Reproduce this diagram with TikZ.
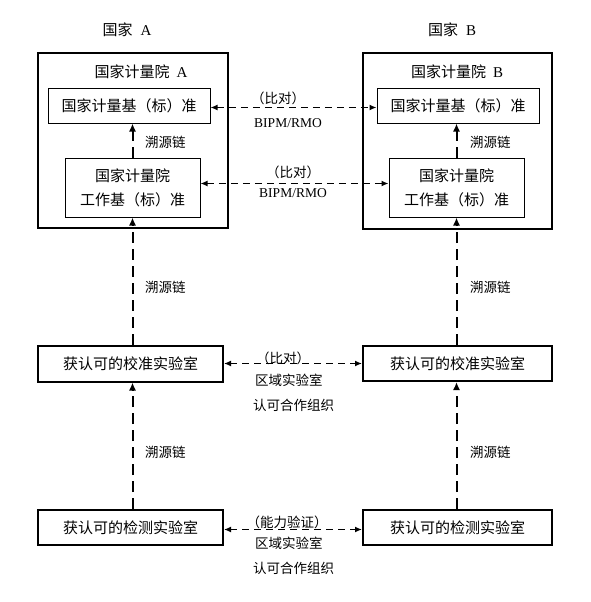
\documentclass[tikz,border=0pt]{standalone}
\usepackage{fontspec}
\setmainfont{Noto Sans CJK SC}
\newfontfamily\latn{Liberation Serif}
\usetikzlibrary{arrows.meta}

\begin{document}
\begin{tikzpicture}[x=1pt, y=-1pt,
    outer/.style={draw, line width=2pt, inner sep=0pt},
    inbox/.style={draw, line width=1pt, inner sep=0pt, align=center, font=\fontsize{15}{24}\selectfont},
    labbox/.style={draw, line width=2pt, inner sep=0pt, minimum height=36pt, font=\fontsize{15}{18}\selectfont},
    hd/.style={inner sep=0pt, font=\fontsize{15}{18}\selectfont},
    lbl/.style={inner sep=0pt, font=\fontsize{13.5}{16}\selectfont},
    org/.style={inner sep=0pt, font=\latn\fontsize{13.5}{16}\selectfont},
    trace/.style={-{Latex[length=8pt,width=7pt]}, line width=2pt, dash pattern=on 11pt off 6pt},
    cmp/.style={{Latex[length=7pt,width=6pt]}-{Latex[length=7pt,width=6pt]}, line width=1.5pt, dash pattern=on 7pt off 5pt}]
    \useasboundingbox (0,0) rectangle (590,602);

    % country A
    \node[hd] (ctyA) at (127,30) {国家\hspace{8pt}{\latn A}};
    \node[outer, minimum width=190pt, minimum height=175pt] (nmiA) at (133,140.5) {};
    \node[hd] (nmiAtxt) at (141,72) {国家计量院\hspace{7pt}{\latn A}};
    \node[inbox, minimum width=162pt, minimum height=35pt] (stdA) at (129,105.5) {国家计量基（标）准};
    \node[inbox, minimum width=135pt, minimum height=59pt] (wstdA) at (132.5,187.5) {国家计量院\\工作基（标）准};
    \node[labbox, minimum width=185pt] (calA) at (130.5,363.5) {获认可的校准实验室};
    \node[labbox, minimum width=185pt, minimum height=35pt] (testA) at (130.5,527.5) {获认可的检测实验室};

    % country B
    \node[hd] (ctyB) at (452,30) {国家\hspace{8pt}{\latn B}};
    \node[outer, minimum width=189pt, minimum height=176pt] (nmiB) at (457.5,141) {};
    \node[hd] (nmiBtxt) at (457,72) {国家计量院\hspace{7pt}{\latn B}};
    \node[inbox, minimum width=162pt, minimum height=35pt] (stdB) at (458,105.5) {国家计量基（标）准};
    \node[inbox, minimum width=135pt, minimum height=59pt] (wstdB) at (456.5,187.5) {国家计量院\\工作基（标）准};
    \node[labbox, minimum width=189pt, minimum height=35pt] (calB) at (457.5,363.5) {获认可的校准实验室};
    \node[labbox, minimum width=189pt, minimum height=35pt] (testB) at (457.5,527.5) {获认可的检测实验室};

    % traceability
    \draw[trace] (wstdA.north) -- (wstdA.north |- stdA.south);
    \draw[trace] (wstdA.south |- calA.north) -- (wstdA.south);
    \draw[trace] (wstdA.south |- testA.north) -- (wstdA.south |- calA.south);
    \draw[trace] (wstdB.north) -- (wstdB.north |- stdB.south);
    \draw[trace] (wstdB.south |- calB.north) -- (wstdB.south);
    \draw[trace] (wstdB.south |- testB.north) -- (wstdB.south |- calB.south);

    \node[lbl, anchor=west] (trA1) at (145,142) {溯源链};
    \node[lbl, anchor=west] (trA2) at (145,287) {溯源链};
    \node[lbl, anchor=west] (trA3) at (145,452) {溯源链};
    \node[lbl, anchor=west] (trB1) at (470,142) {溯源链};
    \node[lbl, anchor=west] (trB2) at (470,287) {溯源链};
    \node[lbl, anchor=west] (trB3) at (470,452) {溯源链};

    % comparisons
    \draw[cmp] ([yshift=-2pt]stdA.east) -- ([yshift=-2pt]stdB.west);
    \draw[cmp] ([yshift=4pt]wstdA.east) -- ([yshift=4pt]wstdB.west);
    \draw[cmp] (calA.east) -- (calB.west);
    \draw[cmp] ([yshift=-2pt]testA.east) -- ([yshift=-2pt]testB.west);

    \node[lbl] (cmp1) at (278,98) {（比对）};
    \node[org] (org1) at (288,123) {BIPM/RMO};
    \node[lbl] (cmp2) at (293,172) {（比对）};
    \node[org] (org2) at (293,193) {BIPM/RMO};
    \node[lbl] (cmp3) at (283,358) {（比对）};
    \node[lbl, anchor=west] (reg3) at (255,380) {区域实验室};
    \node[lbl, anchor=west] (acc3) at (253,405) {认可合作组织};
    \node[lbl] (cmp4) at (287,522) {（能力验证）};
    \node[lbl, anchor=west] (reg4) at (255,543) {区域实验室};
    \node[lbl, anchor=west] (acc4) at (253,568) {认可合作组织};
\end{tikzpicture}
\end{document}
